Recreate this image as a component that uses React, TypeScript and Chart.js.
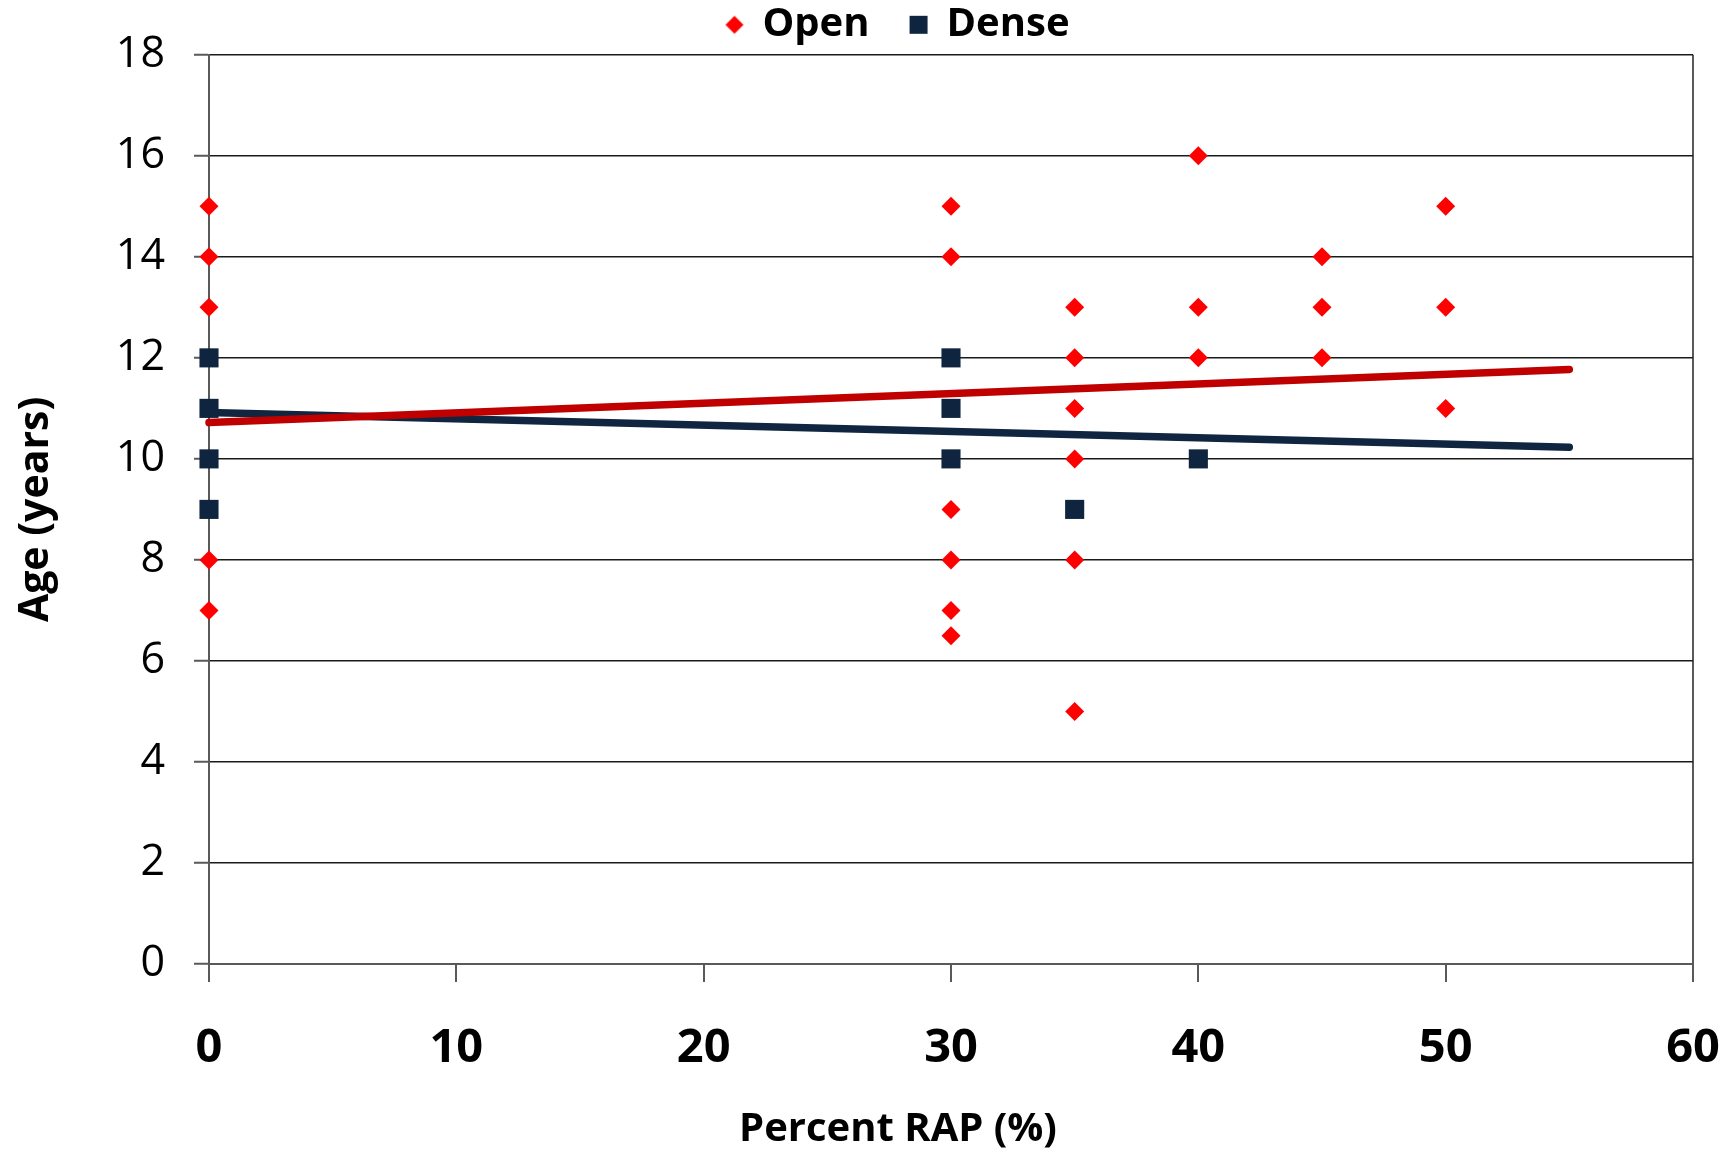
import React, { useEffect, useRef } from "react";
import { Chart, registerables } from "chart.js";

Chart.register(...registerables);

// ---- data ----
const openX = [0, 0, 0, 0, 0, 30, 30, 30, 30, 30, 30, 35, 35, 35, 35, 35, 35, 40, 40, 40, 45, 45, 45, 50, 50, 50];
const openY = [15, 14, 13, 8, 7, 15, 14, 9, 8, 7, 6.5, 13, 12, 11, 10, 8, 5, 16, 13, 12, 14, 13, 12, 15, 13, 11];
const denseX = [0, 0, 0, 0, 30, 30, 30, 35, 40];
const denseY = [12, 11, 10, 9, 12, 11, 10, 9, 10];
const trendX = [0, 55];
const openTrendY = [10.72, 11.77];
const denseTrendY = [10.92, 10.23];
const seriesNames = ["Open", "Dense"];
const xTitle = "Percent RAP (%)";
const yTitle = "Age (years)";

const FONT = "'Open Sans', 'Liberation Sans', sans-serif";
const AXIS = "#595959";
const RED = "#FF0000";
const NAVY = "#0F243E";

const toPts = (xs: number[], ys: number[]) => xs.map((x, i) => ({ x, y: ys[i] }));

function markerCanvas(kind: "diamond" | "square", color: string) {
  const c = document.createElement("canvas");
  c.width = 20;
  c.height = 20;
  const g = c.getContext("2d")!;
  g.fillStyle = color;
  if (kind === "diamond") {
    g.beginPath();
    g.moveTo(10, 1);
    g.lineTo(19, 10);
    g.lineTo(10, 19);
    g.lineTo(1, 10);
    g.closePath();
    g.fill();
  } else {
    g.fillRect(1, 1, 18, 18);
  }
  return c;
}

export default function App() {
  const ref = useRef<HTMLCanvasElement | null>(null);

  useEffect(() => {
    if (!ref.current) return;
    const legendMarkers = [markerCanvas("diamond", RED), markerCanvas("square", NAVY)];
    const chart = new Chart(ref.current, {
      type: "scatter",
      data: {
        datasets: [
          {
            label: seriesNames[0],
            data: toPts(openX, openY),
            pointStyle: "rectRot",
            pointRadius: 9.5,
            pointBackgroundColor: RED,
            pointBorderWidth: 0,
            backgroundColor: RED,
            borderColor: RED,
            clip: false,
            order: 0,
          },
          {
            label: seriesNames[1],
            data: toPts(denseX, denseY),
            pointStyle: "rect",
            pointRadius: 13.5,
            pointBackgroundColor: NAVY,
            pointBorderWidth: 0,
            backgroundColor: NAVY,
            borderColor: NAVY,
            clip: false,
            order: 0,
          },
          {
            label: "Open trend",
            data: toPts(trendX, openTrendY),
            showLine: true,
            pointRadius: 0,
            borderColor: "#C00000",
            borderWidth: 7.5,
            borderCapStyle: "round",
            clip: false,
            order: 1,
          },
          {
            label: "Dense trend",
            data: toPts(trendX, denseTrendY),
            showLine: true,
            pointRadius: 0,
            borderColor: "#10253F",
            borderWidth: 7.5,
            borderCapStyle: "round",
            clip: false,
            order: 1,
          },
        ],
      } as any,
      options: {
        animation: false,
        responsive: true,
        maintainAspectRatio: false,
        layout: { padding: { left: 103, right: 42, top: -37, bottom: 0 } },
        plugins: {
          tooltip: { enabled: false },
          legend: {
            display: true,
            position: "top",
            labels: {
              usePointStyle: true,
              boxWidth: 16,
              boxHeight: 16,
              padding: 41,
              color: "#000",
              font: { family: FONT, size: 40, weight: "bold" },
              generateLabels: (ch: any) => {
                const items = Chart.defaults.plugins.legend.labels.generateLabels(ch);
                return items
                  .filter((it: any) => it.datasetIndex < 2)
                  .map((it: any) => ({ ...it, pointStyle: legendMarkers[it.datasetIndex] }));
              },
            },
          },
          title: {
            display: true,
            position: "bottom",
            text: xTitle,
            color: "#000",
            font: { family: FONT, size: 40, weight: "bold", lineHeight: 1.2 },
            padding: { top: 0, bottom: 4 },
          },
        },
        scales: {
          x: {
            type: "linear",
            min: 0,
            max: 60,
            afterFit: (s: any) => {
              s.height = 142;
              s.paddingRight = 0;
              s.paddingLeft = 0;
            },
            ticks: {
              stepSize: 10,
              padding: 38,
              color: "#000",
              font: { family: FONT, size: 47, weight: "bold" },
              maxRotation: 0,
            },
            grid: {
              drawOnChartArea: true,
              color: (c: any) => (c.tick && c.tick.value === 60 ? AXIS : "rgba(0,0,0,0)"),
              lineWidth: 2,
              tickLength: 18,
              tickColor: AXIS,
              tickWidth: 2,
            },
            border: { display: true, color: AXIS, width: 2 },
          },
          y: {
            type: "linear",
            min: 0,
            max: 18,
            afterFit: (s: any) => {
              s.width = 209 - 103;
            },
            ticks: {
              stepSize: 2,
              padding: 29,
              color: "#000",
              font: { family: FONT, size: 43 },
            },
            grid: {
              color: "#1a1a1a",
              lineWidth: 1.5,
              tickLength: 15,
              tickColor: AXIS,
              tickWidth: 2,
            },
            border: { display: true, color: AXIS, width: 2 },
            title: {
              display: true,
              text: yTitle,
              color: "#000",
              font: { family: FONT, size: 41, weight: "bold" },
              padding: { top: -91, bottom: 0 },
            },
          },
        },
      } as any,
    });
    return () => chart.destroy();
  }, []);

  return (
    <div style={{ position: "fixed", left: 0, top: 0, width: 1735, height: 1158, background: "#fff" }}>
      <canvas ref={ref} />
    </div>
  );
}
